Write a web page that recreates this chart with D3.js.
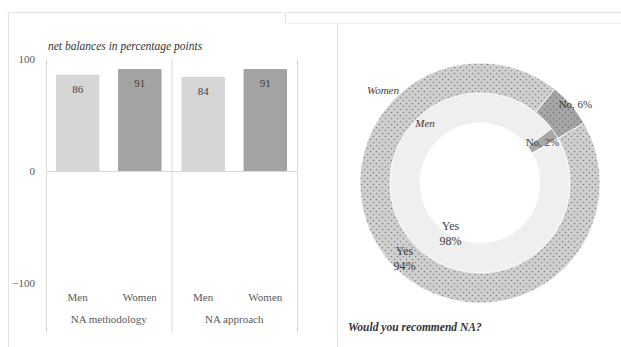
<!DOCTYPE html>
<html>
<head>
<meta charset="utf-8">
<script src="https://cdn.jsdelivr.net/npm/d3@7"></script>
<style>
  html, body { margin: 0; padding: 0; background: #fff; }
  svg { display: block; font-family: "Liberation Serif", "Times New Roman", serif; }
</style>
</head>
<body>
<svg id="chart" width="621" height="347"></svg>
<script>
// Net balances (percentage points) by topic and sex
const groups = ["NA methodology", "NA approach"];
const sexes = ["Men", "Women"];
const menValues = [86, 84];
const womenValues = [91, 91];
const yTicks = [-100, 0, 100];

// "Would you recommend NA?" shares (%)
const answers = ["Yes", "No"];
const menShares = [98, 2];
const womenShares = [94, 6];

const svg = d3.select("#chart");
const textColor = "#595959";
const frameColor = "#e3e3e3";

// Panel frames
const frame = svg.append("g").attr("stroke", frameColor).attr("fill", "none");
frame.append("line").attr("x1", 7).attr("x2", 283).attr("y1", 12.5).attr("y2", 12.5);
frame.append("line").attr("x1", 287).attr("x2", 621).attr("y1", 12.5).attr("y2", 12.5);
frame.append("line").attr("x1", 287).attr("x2", 621).attr("y1", 23.5).attr("y2", 23.5)
  .attr("stroke", "#efefef");
frame.append("line").attr("x1", 8.5).attr("x2", 8.5).attr("y1", 12).attr("y2", 347);
frame.append("line").attr("x1", 285.5).attr("x2", 285.5).attr("y1", 12).attr("y2", 24);
frame.append("line").attr("x1", 337.5).attr("x2", 337.5).attr("y1", 24).attr("y2", 347);

// ---------- Bar chart ----------
const bars = svg.append("g");
const x0 = d3.scaleBand().domain(groups).range([46, 297]).padding(0);
const x1 = d3.scaleBand().domain(sexes).range([0, x0.bandwidth()])
  .paddingInner(0.3).paddingOuter(0.16);
const y = d3.scaleLinear().domain([-100, 100]).range([283, 59]);

const barData = [];
groups.forEach((g, i) => {
  barData.push({ group: g, sex: "Men", value: menValues[i] });
  barData.push({ group: g, sex: "Women", value: womenValues[i] });
});
const barColor = { Men: "#d6d6d6", Women: "#a3a3a3" };

// zero line
bars.append("line")
  .attr("x1", 46).attr("x2", 297)
  .attr("y1", y(0) + 0.5).attr("y2", y(0) + 0.5)
  .attr("stroke", "#d9d9d9");

bars.selectAll("rect.bar").data(barData).join("rect")
  .attr("class", "bar")
  .attr("x", d => x0(d.group) + x1(d.sex))
  .attr("width", x1.bandwidth())
  .attr("y", d => y(d.value))
  .attr("height", d => y(0) - y(d.value))
  .attr("fill", d => barColor[d.sex]);

bars.selectAll("text.val").data(barData).join("text")
  .attr("class", "val")
  .attr("x", d => x0(d.group) + x1(d.sex) + x1.bandwidth() / 2)
  .attr("y", d => y(d.value) + 18)
  .attr("text-anchor", "middle")
  .attr("font-size", 11)
  .attr("fill", "#404040")
  .text(d => d.value);

// group dividers and left axis line
const dividers = [46, ...groups.map(g => x0(g) + x0.bandwidth())];
bars.selectAll("line.div").data(dividers).join("line")
  .attr("class", "div")
  .attr("x1", d => d + 0.5).attr("x2", d => d + 0.5)
  .attr("y1", y(100)).attr("y2", 333)
  .attr("stroke", "#d9d9d9");

// y axis
const yAxis = d3.axisLeft(y).tickValues(yTicks).tickSize(0).tickPadding(11);
const yg = bars.append("g").attr("transform", "translate(46,0)").call(yAxis);
yg.select(".domain").remove();
yg.selectAll("text").attr("font-size", 11).attr("fill", textColor)
  .attr("font-family", "Liberation Serif, serif");

// category labels
bars.selectAll("text.sex").data(barData).join("text")
  .attr("class", "sex")
  .attr("x", d => x0(d.group) + x1(d.sex) + x1.bandwidth() / 2)
  .attr("y", 301)
  .attr("text-anchor", "middle")
  .attr("font-size", 11)
  .attr("fill", textColor)
  .text(d => d.sex);

bars.selectAll("text.grp").data(groups).join("text")
  .attr("class", "grp")
  .attr("x", d => x0(d) + x0.bandwidth() / 2)
  .attr("y", 323)
  .attr("text-anchor", "middle")
  .attr("font-size", 11)
  .attr("fill", textColor)
  .text(d => d);

bars.append("text")
  .attr("x", 48).attr("y", 50)
  .attr("font-size", 11.5)
  .attr("font-style", "italic")
  .attr("fill", "#333")
  .text("net balances in percentage points");

// ---------- Doughnut ----------
const defs = svg.append("defs");
function dotted(id, bg, dot) {
  const p = defs.append("pattern").attr("id", id)
    .attr("width", 6).attr("height", 6).attr("patternUnits", "userSpaceOnUse");
  p.append("rect").attr("width", 6).attr("height", 6).attr("fill", bg);
  p.append("circle").attr("cx", 1.5).attr("cy", 1.5).attr("r", 0.85).attr("fill", dot);
  p.append("circle").attr("cx", 4.5).attr("cy", 4.5).attr("r", 0.85).attr("fill", dot);
}
dotted("womenYes", "#d0d0d0", "#8a8a8a");
dotted("womenNo", "#a6a6a6", "#777");

const cx = 480, cy = 183;
const donut = svg.append("g").attr("transform", `translate(${cx},${cy})`);
const start = 60 * Math.PI / 180;
const pie = d3.pie().sort(null).startAngle(start).endAngle(start + 2 * Math.PI);

const rings = [
  { name: "Men", shares: menShares, inner: 60, outer: 90,
    fills: ["#efefef", "#a8a8a8"] },
  { name: "Women", shares: womenShares, inner: 90, outer: 120,
    fills: ["url(#womenYes)", "url(#womenNo)"] }
];

rings.forEach(ring => {
  const arc = d3.arc().innerRadius(ring.inner).outerRadius(ring.outer);
  const arcs = pie(ring.shares);
  donut.append("g").selectAll("path").data(arcs).join("path")
    .attr("d", arc)
    .attr("fill", (d, i) => ring.fills[i])
    .attr("stroke", "#fff")
    .attr("stroke-width", 0.8);
  ring.arc = arc;
  ring.arcs = arcs;
});

// slice labels, placed from each slice's centroid
const labelShift = {
  Men: [[33, 5], [0, 0]],
  Women: [[4, 3], [16, -10]]
};
rings.forEach(ring => {
  ring.arcs.forEach((a, i) => {
    const [px, py] = ring.arc.centroid(a);
    const [dx, dy] = labelShift[ring.name][i];
    const t = donut.append("text")
      .attr("text-anchor", "middle")
      .attr("font-size", answers[i] === "Yes" ? 12 : 11)
      .attr("fill", "#404040");
    if (answers[i] === "Yes") {
      t.append("tspan").attr("x", px + dx).attr("y", py + dy).text(answers[i]);
      t.append("tspan").attr("x", px + dx).attr("y", py + dy + 15).text(a.data + "%");
    } else {
      t.attr("x", px + dx).attr("y", py + dy + 4).text(`${answers[i]}, ${a.data}%`);
    }
  });
});

// ring names
donut.append("text").attr("x", -97).attr("y", -89)
  .attr("text-anchor", "middle").attr("font-size", 11)
  .attr("font-style", "italic").attr("fill", "#404040").text("Women");
donut.append("text").attr("x", -55).attr("y", -56)
  .attr("text-anchor", "middle").attr("font-size", 11)
  .attr("font-style", "italic").attr("fill", "#404040").text("Men");

svg.append("text")
  .attr("x", 348).attr("y", 331)
  .attr("font-size", 11.5)
  .attr("font-style", "italic")
  .attr("font-weight", "bold")
  .attr("fill", "#333")
  .text("Would you recommend NA?")
</script>
</body>
</html>
